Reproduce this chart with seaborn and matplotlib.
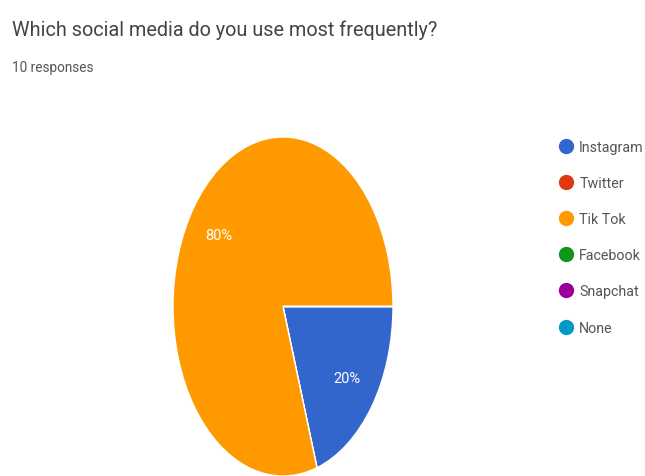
import matplotlib
matplotlib.use("Agg")
import matplotlib.pyplot as plt
import seaborn as sns
from matplotlib.lines import Line2D

sns.set_theme(style="white")
plt.rcParams['font.family'] = ['Roboto', 'DejaVu Sans']

categories = ["Instagram", "Twitter", "Tik Tok", "Facebook", "Snapchat", "None"]
values = [2, 0, 8, 0, 0, 0]
colors = ["#3366CC", "#DC3912", "#FF9900", "#109618", "#990099", "#0099C6"]
title = "Which social media do you use most frequently?"
subtitle = "10 responses"

fig = plt.figure(figsize=(6.45, 4.77), dpi=100)
W, H = 645, 477
ax = fig.add_axes([173 / W, 0.0, 220 / W, 339 / H])

def fmt(p):
    return f"{p:.0f}%" if p > 0 else ""

wedges, texts, autotexts = ax.pie(values, colors=colors, startangle=0, counterclock=False,
                                  autopct=fmt, pctdistance=0.72,
                                  wedgeprops=dict(edgecolor="white", linewidth=1),
                                  textprops=dict(color="white", fontsize=10.5))
ax.set_aspect("auto")
ax.set_xlim(-1, 1)
ax.set_ylim(-1, 1)

fig.text(12 / W, 1 - 30 / H, title, fontsize=14.3, color="#444444", va="center", ha="left")
fig.text(12 / W, 1 - 68 / H, subtitle, fontsize=9.8, color="#555555", va="center", ha="left")

handles = [Line2D([0], [0], marker="o", linestyle="none", markersize=10,
                  markerfacecolor=c, markeredgecolor=c) for c in colors]
fig.legend(handles, categories, loc="upper left", bbox_to_anchor=(552 / W, 1 - 135 / H),
           frameon=False, fontsize=10.3, labelspacing=1.55, handletextpad=0.3,
           handlelength=1.2, labelcolor="#555555", borderaxespad=0)

fig.savefig("out.png", dpi=100)
